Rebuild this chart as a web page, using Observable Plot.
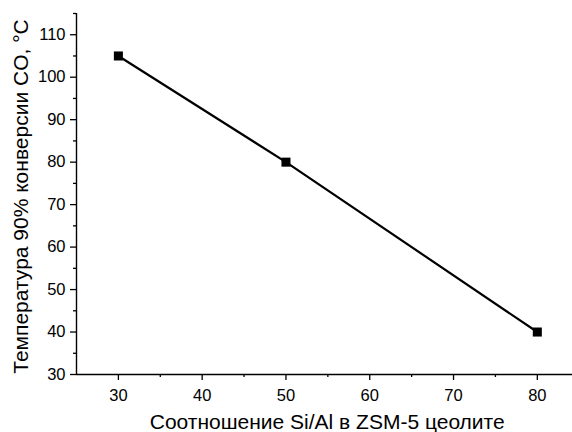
<!DOCTYPE html>
<html>
<head>
<meta charset="utf-8">
<script src="https://cdn.jsdelivr.net/npm/d3@7"></script>
<script src="https://cdn.jsdelivr.net/npm/@observablehq/plot@0.6"></script>
<style>
  html, body { margin: 0; padding: 0; background: #fff; }
  svg { display: block; }
</style>
</head>
<body>
<div id="chart"></div>
<script>
const ratios = [30, 50, 80];
const temps = [105, 80, 40];
const xMajorTicks = [30, 40, 50, 60, 70, 80];
const xMinorTicks = [35, 45, 55, 65, 75];
const yMajorTicks = [30, 40, 50, 60, 70, 80, 90, 100, 110];
const yMinorTicks = [35, 45, 55, 65, 75, 85, 95, 105, 115];
const xTitle = "Соотношение Si/Al в ZSM-5 цеолите";
const yTitle = "Температура 90% конверсии CO, °C";

const data = ratios.map((r, i) => ({ratio: r, temp: temps[i]}));

const chart = Plot.plot({
  width: 572,
  height: 432,
  marginLeft: 76,
  marginRight: 0,
  marginTop: 13,
  marginBottom: 58,
  style: {fontFamily: "'Liberation Sans', Arial, sans-serif", fontSize: "16px", color: "#000", background: "#fff", overflow: "visible"},
  x: {domain: [25, 84.2]},
  y: {domain: [30, 115]},
  marks: [
    Plot.axisX(xMajorTicks, {tickSize: 6, tickPadding: 9, fontSize: 16.5, label: null, strokeWidth: 1.3}),
    Plot.axisX(xMinorTicks, {tickSize: 3, text: null, label: null, strokeWidth: 1.3}),
    Plot.axisY(yMajorTicks, {tickSize: 6, tickPadding: 5, fontSize: 16.5, label: null, strokeWidth: 1.3}),
    Plot.axisY(yMinorTicks, {tickSize: 3, text: null, label: null, strokeWidth: 1.3}),
    Plot.ruleY([30], {stroke: "#000", strokeWidth: 1.4}),
    Plot.ruleX([25], {stroke: "#000", strokeWidth: 1.4}),
    Plot.line(data, {x: "ratio", y: "temp", stroke: "#000", strokeWidth: 2.2}),
    Plot.dot(data, {x: "ratio", y: "temp", symbol: "square", r: 5.1, fill: "#000", stroke: "none"}),
    Plot.text([xTitle], {frameAnchor: "bottom", text: d => d, textAnchor: "middle", lineAnchor: "top", dx: 2.7, dy: 39.5, fontSize: 21, fill: "#000"}),
    Plot.text([yTitle], {frameAnchor: "left", text: d => d, textAnchor: "middle", lineAnchor: "middle", rotate: -90, dx: -55, dy: 2.5, fontSize: 21, fill: "#000"})
  ]
});
document.getElementById("chart").appendChild(chart);
</script>
</body>
</html>
